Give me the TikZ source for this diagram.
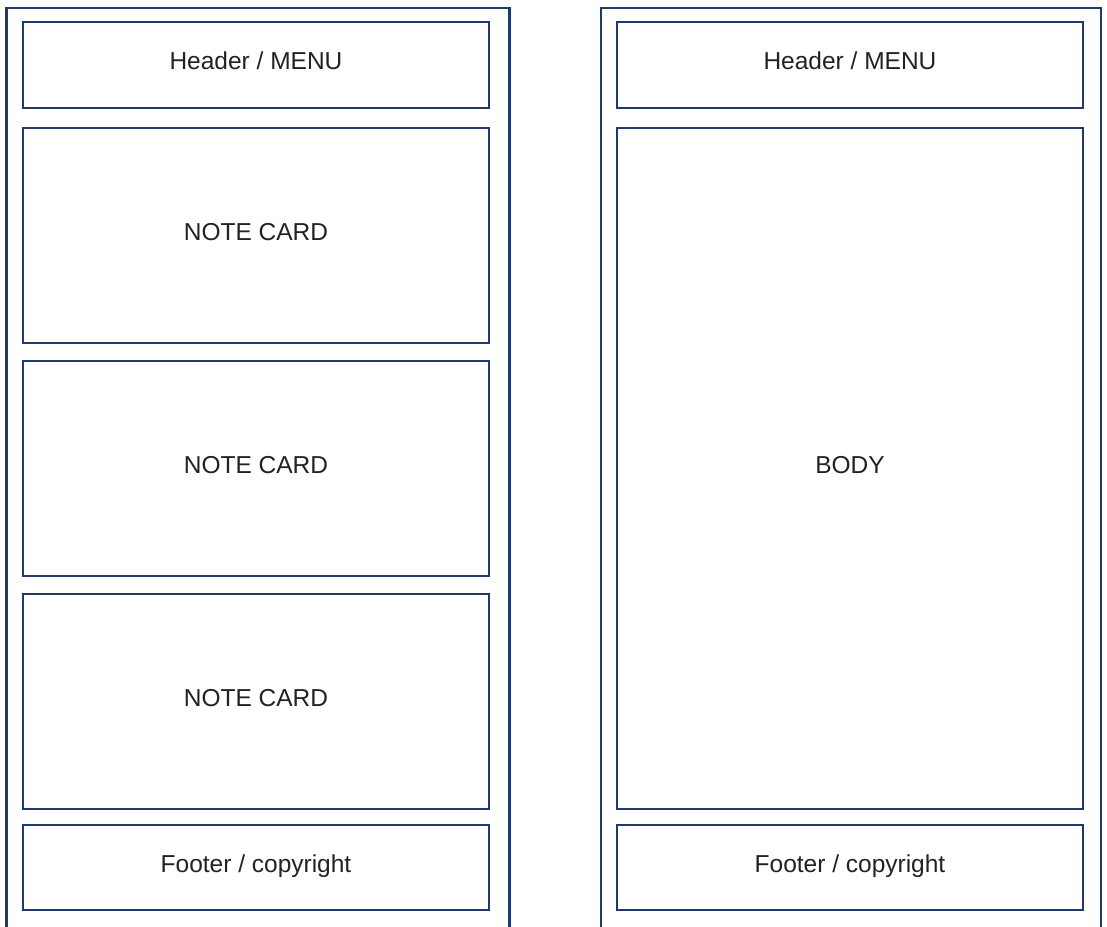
\documentclass[tikz,border=0pt]{standalone}
\usepackage{fontspec}
\setmainfont{Liberation Sans}
\definecolor{navy}{RGB}{31,58,104}
\definecolor{txt}{RGB}{34,34,34}
\newcommand{\lbl}[1]{\raisebox{-4.5pt}[0pt][0pt]{#1}}
\begin{document}
\begin{tikzpicture}[x=1pt,y=-1pt,
  frame/.style={draw=navy,line width=2.8pt},
  box/.style={draw=navy,line width=2.8pt,rectangle,inner sep=0pt,
    text=txt,font=\fontsize{24.5}{29}\selectfont,minimum width=466pt}]
\useasboundingbox (0,0) rectangle (1107,926);
\begin{scope}
\clip (0,0) rectangle (1107,926);
\draw[frame] (6.5,940) -- (6.5,8) -- (509.5,8) -- (509.5,940);
\draw[frame] (601,940) -- (601,8) -- (1101,8) -- (1101,940);
\end{scope}
% left column
\node[box,minimum height=86pt] (lhead) at (256,65) {\lbl{Header / MENU}};
\node[box,minimum height=215pt] (card1) at (256,235.5) {\lbl{NOTE CARD}};
\node[box,minimum height=215pt] (card2) at (256,468.5) {\lbl{NOTE CARD}};
\node[box,minimum height=215pt] (card3) at (256,701.5) {\lbl{NOTE CARD}};
\node[box,minimum height=85pt] (lfoot) at (256,867.5) {\lbl{Footer / copyright}};
% right column
\node[box,minimum height=86pt] (rhead) at (850,65) {\lbl{Header / MENU}};
\node[box,minimum height=681pt] (body) at (850,468.5) {\lbl{BODY}};
\node[box,minimum height=85pt] (rfoot) at (850,867.5) {\lbl{Footer / copyright}};
\end{tikzpicture}
\end{document}
